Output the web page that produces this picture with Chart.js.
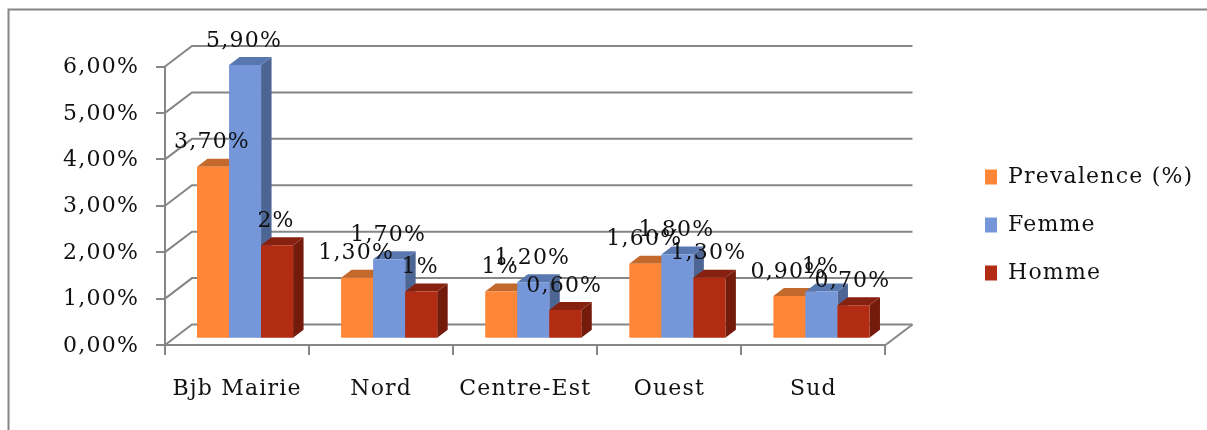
<!DOCTYPE html>
<html>
<head>
<meta charset="utf-8">
<title>Prevalence</title>
<script src="https://cdn.jsdelivr.net/npm/chart.js@4"></script>
<style>
  body { margin: 0; background: #fff; }
  canvas { display: block; }
</style>
</head>
<body>
<canvas id="prevChart" width="1207" height="430"></canvas>
<script>
const categories = ['Bjb Mairie', 'Nord', 'Centre-Est', 'Ouest', 'Sud'];
const prevalence = [3.7, 1.3, 1, 1.6, 0.9];
const femme = [5.9, 1.7, 1.2, 1.8, 1];
const homme = [2, 1, 0.6, 1.3, 0.7];

const prevalenceLabels = ['3,70%', '1,30%', '1%', '1,60%', '0,90%'];
const femmeLabels = ['5,90%', '1,70%', '1,20%', '1,80%', '1%'];
const hommeLabels = ['2%', '1%', '0,60%', '1,30%', '0,70%'];

const fontFamily = '"DejaVu Serif", serif';
const fontSize = 22;
const axisColor = '#868686';

// faces of the boxes: front, side, top
const faces = [
  { front: '#FF8636', side: '#B05A22', top: '#C4692C' },
  { front: '#7597DA', side: '#4C6594', top: '#5A78B0' },
  { front: '#B22B13', side: '#741B0C', top: '#86210F' }
];
const barLabels = [prevalenceLabels, femmeLabels, hommeLabels];

// pseudo 3D offsets
const wallDx = 27, wallDy = 20.5;
const barShift = 8;
const depthX = 10.5, depthY = 8;

const box3d = {
  id: 'box3d',
  afterLayout(chart) {
    // legend sits further right than the layout would put it
    const lg = chart.legend;
    lg.left = 959;
    lg.right = 1207;
    lg.top = 100;
    lg.bottom = 350;
  },
  beforeDraw(chart) {
    const ctx = chart.ctx;
    ctx.letterSpacing = '1.2px';
    ctx.save();
    ctx.strokeStyle = axisColor;
    ctx.lineWidth = 2;
    ctx.beginPath();
    ctx.moveTo(8.5, 430);
    ctx.lineTo(8.5, 9.5);
    ctx.lineTo(1207, 9.5);
    ctx.stroke();
    ctx.restore();
  },
  beforeDatasetsDraw(chart) {
    const ctx = chart.ctx;
    const x = chart.scales.x, y = chart.scales.y;

    // back wall lines and their diagonals
    ctx.save();
    ctx.strokeStyle = axisColor;
    ctx.lineWidth = 2;
    y.ticks.forEach(t => {
      const py = y.getPixelForValue(t.value);
      ctx.beginPath();
      ctx.moveTo(x.left, py);
      ctx.lineTo(x.left + wallDx, py - wallDy);
      ctx.lineTo(x.right + wallDx, py - wallDy);
      ctx.stroke();
    });
    ctx.beginPath();
    ctx.moveTo(x.right, y.bottom);
    ctx.lineTo(x.right + wallDx, y.bottom - wallDy);
    ctx.stroke();

    // boxes left to right so each front covers the neighbour's side
    ctx.translate(barShift, 0);
    chart.data.datasets.forEach((ds, i) => {
      chart.getDatasetMeta(i).data.forEach(bar => {
        const r = bar.x + bar.width / 2, l = bar.x - bar.width / 2;
        ctx.fillStyle = faces[i].side;
        ctx.beginPath();
        ctx.moveTo(r, bar.y);
        ctx.lineTo(r + depthX, bar.y - depthY);
        ctx.lineTo(r + depthX, bar.base - depthY);
        ctx.lineTo(r, bar.base);
        ctx.closePath();
        ctx.fill();
        ctx.fillStyle = faces[i].top;
        ctx.beginPath();
        ctx.moveTo(l, bar.y);
        ctx.lineTo(l + depthX, bar.y - depthY);
        ctx.lineTo(r + depthX, bar.y - depthY);
        ctx.lineTo(r, bar.y);
        ctx.closePath();
        ctx.fill();
        bar.draw(ctx);
      });
    });
    ctx.restore();
    return false;
  },
  afterDraw(chart) {
    const ctx = chart.ctx;
    ctx.save();
    ctx.font = fontSize + 'px ' + fontFamily;
    ctx.fillStyle = '#111';
    ctx.textAlign = 'center';
    ctx.textBaseline = 'middle';
    barLabels.forEach((labels, i) => {
      chart.getDatasetMeta(i).data.forEach((bar, j) => {
        ctx.fillText(labels[j], bar.x + barShift - 1, bar.y - 24);
      });
    });
    ctx.restore();
  }
};

new Chart(document.getElementById('prevChart'), {
  type: 'bar',
  data: {
    labels: categories,
    datasets: [
      { label: 'Prevalence (%)', data: prevalence, backgroundColor: faces[0].front, yAxisID: 'barY' },
      { label: 'Femme', data: femme, backgroundColor: faces[1].front, yAxisID: 'barY' },
      { label: 'Homme', data: homme, backgroundColor: faces[2].front, yAxisID: 'barY' }
    ]
  },
  options: {
    responsive: false,
    animation: false,
    categoryPercentage: 0.6667,
    barPercentage: 1,
    layout: { padding: { top: 66.5, left: 0, right: 94, bottom: 0 } },
    plugins: {
      tooltip: { enabled: false },
      legend: {
        position: 'right',
        labels: {
          color: '#111',
          font: { family: fontFamily, size: fontSize },
          boxWidth: 12,
          boxHeight: 15,
          padding: 26
        }
      }
    },
    scales: {
      x: {
        afterFit(s) { s.height = 85; },
        border: { color: axisColor, width: 2 },
        grid: { color: axisColor, lineWidth: 2, tickLength: 10, drawOnChartArea: false, offset: true },
        ticks: {
          color: '#111',
          padding: 21,
          maxRotation: 0,
          autoSkip: false,
          font: { family: fontFamily, size: fontSize }
        }
      },
      y: {
        min: 0,
        max: 6,
        afterFit(s) { s.width = 165; },
        border: { color: axisColor, width: 2 },
        grid: { color: axisColor, lineWidth: 2, tickLength: 9, drawOnChartArea: false },
        ticks: {
          color: '#111',
          padding: 17,
          stepSize: 1,
          labelOffset: 1,
          font: { family: fontFamily, size: fontSize },
          callback: v => v.toFixed(2).replace('.', ',') + '%'
        }
      },
      // boxes stand a little behind the front axis plane
      barY: { display: false, min: -0.158, max: 5.87 }
    }
  },
  plugins: [box3d]
});
</script>
</body>
</html>
